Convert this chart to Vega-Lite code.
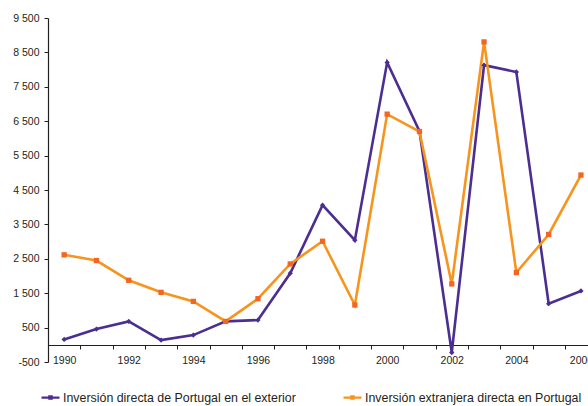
{
  "$schema": "https://vega.github.io/schema/vega-lite/v6.json",
  "autosize": {"type": "none"},
  "padding": {"left": 48, "top": 18, "right": 0, "bottom": 44},
  "width": 540,
  "height": 344,
  "background": "white",
  "config": {
    "view": {"stroke": null},
    "font": "Liberation Sans",
    "axis": {"labelFont": "Liberation Sans", "labelColor": "#231f20", "domainColor": "#231f20", "tickColor": "#231f20", "grid": false, "title": null}
  },
  "data": {
    "values": [
      {"year": 1990, "s": "Inversión directa de Portugal en el exterior", "v": 155},
      {"year": 1991, "s": "Inversión directa de Portugal en el exterior", "v": 457},
      {"year": 1992, "s": "Inversión directa de Portugal en el exterior", "v": 680},
      {"year": 1993, "s": "Inversión directa de Portugal en el exterior", "v": 137},
      {"year": 1994, "s": "Inversión directa de Portugal en el exterior", "v": 282},
      {"year": 1995, "s": "Inversión directa de Portugal en el exterior", "v": 680},
      {"year": 1996, "s": "Inversión directa de Portugal en el exterior", "v": 720},
      {"year": 1997, "s": "Inversión directa de Portugal en el exterior", "v": 2080},
      {"year": 1998, "s": "Inversión directa de Portugal en el exterior", "v": 4060},
      {"year": 1999, "s": "Inversión directa de Portugal en el exterior", "v": 3040},
      {"year": 2000, "s": "Inversión directa de Portugal en el exterior", "v": 8210},
      {"year": 2001, "s": "Inversión directa de Portugal en el exterior", "v": 6210},
      {"year": 2002, "s": "Inversión directa de Portugal en el exterior", "v": -224},
      {"year": 2003, "s": "Inversión directa de Portugal en el exterior", "v": 8130},
      {"year": 2004, "s": "Inversión directa de Portugal en el exterior", "v": 7930},
      {"year": 2005, "s": "Inversión directa de Portugal en el exterior", "v": 1195},
      {"year": 2006, "s": "Inversión directa de Portugal en el exterior", "v": 1565},
      {"year": 1990, "s": "Inversión extranjera directa en Portugal", "v": 2615},
      {"year": 1991, "s": "Inversión extranjera directa en Portugal", "v": 2450},
      {"year": 1992, "s": "Inversión extranjera directa en Portugal", "v": 1875},
      {"year": 1993, "s": "Inversión extranjera directa en Portugal", "v": 1525},
      {"year": 1994, "s": "Inversión extranjera directa en Portugal", "v": 1262},
      {"year": 1995, "s": "Inversión extranjera directa en Portugal", "v": 680},
      {"year": 1996, "s": "Inversión extranjera directa en Portugal", "v": 1340},
      {"year": 1997, "s": "Inversión extranjera directa en Portugal", "v": 2350},
      {"year": 1998, "s": "Inversión extranjera directa en Portugal", "v": 3010},
      {"year": 1999, "s": "Inversión extranjera directa en Portugal", "v": 1157},
      {"year": 2000, "s": "Inversión extranjera directa en Portugal", "v": 6705},
      {"year": 2001, "s": "Inversión extranjera directa en Portugal", "v": 6200},
      {"year": 2002, "s": "Inversión extranjera directa en Portugal", "v": 1770},
      {"year": 2003, "s": "Inversión extranjera directa en Portugal", "v": 8805},
      {"year": 2004, "s": "Inversión extranjera directa en Portugal", "v": 2100},
      {"year": 2005, "s": "Inversión extranjera directa en Portugal", "v": 3207},
      {"year": 2006, "s": "Inversión extranjera directa en Portugal", "v": 4935}
    ]
  },
  "encoding": {
    "x": {
      "field": "year", "type": "quantitative",
      "scale": {"domain": [1989.5, 2006.218], "nice": false, "zero": false},
      "axis": {
        "values": [1989.5, 1990.5, 1991.5, 1992.5, 1993.5, 1994.5, 1995.5, 1996.5, 1997.5, 1998.5, 1999.5, 2000.5, 2001.5, 2002.5, 2003.5, 2004.5, 2005.5],
        "labelExpr": "(datum.value + 0.5) % 2 == 0 ? format(datum.value + 0.5, 'd') : ''",
        "labelOffset": 16.15,
        "labelOverlap": false,
        "labelBound": false,
        "labelFlush": false,
        "labelFontSize": 10.5,
        "labelPadding": 6,
        "labelBaseline": "top",
        "tickSize": 4,
        "offset": -17,
        "domainWidth": 1.2
      }
    },
    "y": {
      "field": "v", "type": "quantitative",
      "scale": {"domain": [-500, 9500], "nice": false, "zero": false},
      "axis": {
        "values": [-500, 500, 1500, 2500, 3500, 4500, 5500, 6500, 7500, 8500, 9500],
        "labelExpr": "replace(replace(format(datum.value, ','), ',', ' '), '\u2212', '-')",
        "labelFontSize": 10.5,
        "labelPadding": 5,
        "tickSize": 4,
        "domainWidth": 1.2
      }
    }
  },
  "layer": [
    {
      "mark": {"type": "line", "strokeWidth": 2.6, "clip": false},
      "encoding": {
        "color": {
          "field": "s", "type": "nominal",
          "scale": {"domain": ["Inversión directa de Portugal en el exterior", "Inversión extranjera directa en Portugal"], "range": ["#4b2e91", "#f7941d"]},
          "legend": {
            "orient": "none", "legendX": -8, "legendY": 369,
            "direction": "horizontal", "title": null,
            "symbolType": "M-1,0H1M-0.13,-0.13H0.13V0.13H-0.13Z",
            "symbolSize": 324, "symbolStrokeWidth": 2.2,
            "labelFont": "Liberation Sans", "labelFontSize": 12.4, "labelColor": "#231f20",
            "labelOffset": 2, "columnPadding": 43, "labelLimit": 400
          }
        }
      }
    },
    {
      "mark": {"type": "point", "filled": true, "opacity": 1, "size": 28},
      "encoding": {
        "color": {
          "field": "s", "type": "nominal",
          "scale": {"range": ["#4b2e91", "#f26522"]},
          "legend": null
        },
        "shape": {
          "field": "s", "type": "nominal",
          "scale": {"domain": ["Inversión directa de Portugal en el exterior", "Inversión extranjera directa en Portugal"], "range": ["diamond", "square"]},
          "legend": null
        }
      }
    }
  ],
  "resolve": {"scale": {"color": "independent"}}
}
